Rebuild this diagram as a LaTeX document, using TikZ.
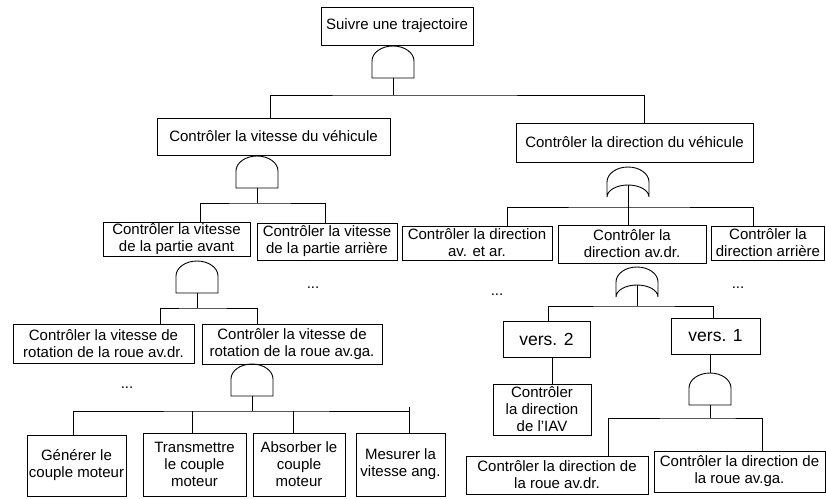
\documentclass[tikz,border=0pt]{standalone}
\usepackage{fontspec}
\setmainfont{Liberation Sans}
\begin{document}
\begin{tikzpicture}[x=1pt,y=-1pt,line width=0.9pt,
  box/.style={draw,inner sep=0pt,align=center,font=\fontsize{15pt}{17pt}\selectfont},
  bigbox/.style={box,font=\fontsize{17.5pt}{20pt}\selectfont},
  dots/.style={inner sep=0pt,font=\fontsize{15pt}{17pt}\selectfont},
  andgate/.pic={\draw (-21,32) -- (-21,15) arc[start angle=180,end angle=0,x radius=21pt,y radius=15pt] -- (21,32) -- cycle;
    \coordinate (-in) at (0,0); \coordinate (-out) at (0,32);},
  orgate/.pic={\draw (-21,30) -- (-21,15) arc[start angle=180,end angle=0,x radius=21pt,y radius=15pt] -- (21,30)
    arc[start angle=0,end angle=180,x radius=21pt,y radius=12pt] -- cycle;
    \coordinate (-in) at (0,0); \coordinate (-out) at (0,18);}]
\useasboundingbox (0,0) rectangle (826,498);

% boxes
\node[box,minimum width=152pt,minimum height=38pt] (top) at (397,26) {Suivre une trajectoire};
\node[box,minimum width=233pt,minimum height=37pt] (vit) at (273.5,136.5) {Contrôler la vitesse du véhicule};
\node[box,minimum width=237pt,minimum height=39pt] (dir) at (634.5,142.5) {Contrôler la direction du véhicule};
\node[box,minimum width=147pt,minimum height=34pt] (pav) at (176.5,239) {Contrôler la vitesse\\de la partie avant};
\node[box,minimum width=140pt,minimum height=37pt] (par) at (327,241.5) {Contrôler la vitesse\\de la partie arrière};
\node[box,minimum width=150pt,minimum height=34pt] (dae) at (477,243) {Contrôler la direction\\av. et ar.};
\node[box,minimum width=148pt,minimum height=38pt] (dad) at (632,244) {Contrôler la\\direction av.dr.};
\node[box,minimum width=113pt,minimum height=34pt] (dar) at (768,243) {Contrôler la\\direction arrière};
\node[box,minimum width=181pt,minimum height=39pt] (rdr) at (103.5,343.5) {Contrôler la vitesse de\\rotation de la roue av.dr.};
\node[box,minimum width=180pt,minimum height=40pt] (rga) at (292,344) {Contrôler la vitesse de\\rotation de la roue av.ga.};
\node[box,minimum width=99pt,minimum height=61pt] (gen) at (76.5,465.5) {Générer le\\couple moteur};
\node[box,minimum width=103pt,minimum height=63pt] (tra) at (194.5,464.5) {Transmettre\\le couple\\moteur};
\node[box,minimum width=92pt,minimum height=63pt] (abs) at (299,464.5) {Absorber le\\couple\\moteur};
\node[box,minimum width=89pt,minimum height=63pt] (mes) at (400.5,464.5) {Mesurer la\\vitesse ang.};
\node[bigbox,minimum width=87pt,minimum height=36pt] (v2) at (546.5,339.5) {vers. 2};
\node[bigbox,minimum width=89pt,minimum height=36pt] (v1) at (715.5,336) {vers. 1};
\node[box,minimum width=98pt,minimum height=51pt] (iav) at (542,409.5) {Contrôler\\la direction\\de l’IAV};
\node[box,minimum width=182pt,minimum height=38pt] (bdr) at (557,475) {Contrôler la direction de\\la roue av.dr.};
\node[box,minimum width=171pt,minimum height=41pt] (bga) at (739.5,471.5) {Contrôler la direction de\\la roue av.ga.};

% dots
\node[dots] (d1) at (313,288) {...};
\node[dots] (d2) at (127,388) {...};
\node[dots] (d3) at (497,295) {...};
\node[dots] (d4) at (738,288) {...};

% gates
\pic (g1) at (393,46) {andgate};
\pic (g2) at (257,156) {andgate};
\pic (g3) at (197,261) {andgate};
\pic (g4) at (252,364) {andgate};
\pic (g5) at (628,167) {orgate};
\pic (g6) at (637,267) {orgate};
\pic (g7) at (710,373) {andgate};

% tree 1
\coordinate (b1) at (393,95);
\draw (g1-out) -- (b1);
\draw ([xshift=-3.5pt]vit.north) |- (b1) -| ([xshift=9.5pt]dir.north);

% tree 2
\coordinate (b2) at (257,203);
\draw (g2-out) -- (b2);
\draw ([xshift=23.5pt]pav.north) |- (b2) -| ([xshift=-2pt]par.north);

% tree 3
\coordinate (b3) at (197,308);
\draw (g3-out) -- (b3);
\draw ([xshift=56.5pt]rdr.north) |- (b3) -| ([xshift=-35pt]rga.north);

% tree 4
\coordinate (b4) at (252,411);
\coordinate (m4) at ([xshift=8.5pt]mes.north);
\draw (g4-out) -- (b4);
\draw ([xshift=-3.5pt]gen.north) |- (b4) -- (b4 -| m4);
\draw ([xshift=-2.5pt]tra.north) -- ([xshift=-2.5pt]tra.north |- b4);
\draw ([xshift=-6pt]abs.north) -- ([xshift=-6pt]abs.north |- b4);
\draw (m4) -- ([yshift=4pt]m4 |- b4);

% tree 5
\coordinate (b5) at (628,207);
\draw (g5-out) -- (b5);
\draw ([xshift=30pt]dae.north) |- (b5) -| ([xshift=-15pt]dar.north);
\draw (b5) -- ([xshift=-4pt]dad.north);

% tree 6
\coordinate (b6) at (637,306);
\draw (g6-out) -- (b6);
\draw ([xshift=1.5pt]v2.north) |- (b6) -| ([xshift=-2.5pt]v1.north);
\draw ([xshift=5.5pt]v2.south) -- ([xshift=5.5pt]v2.south |- iav.north);

% tree 7
\draw (g7-in |- v1.south) -- (g7-in);
\coordinate (b7) at (710,418);
\draw (g7-out) -- (b7);
\draw ([xshift=51pt]bdr.north) |- (b7) -| ([xshift=22.5pt]bga.north);
\end{tikzpicture}
\end{document}
